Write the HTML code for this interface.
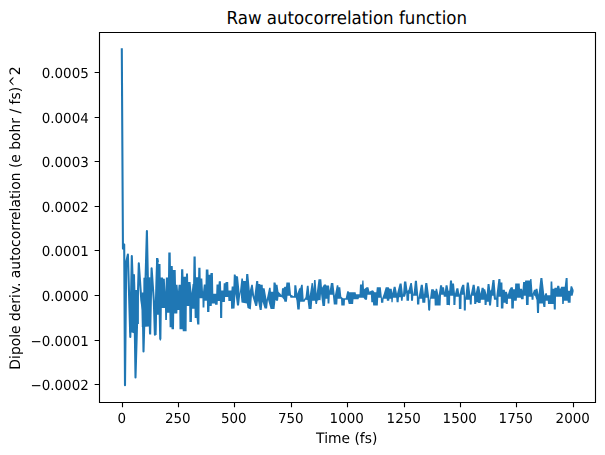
<!DOCTYPE html><html><head><meta charset="utf-8"><title>Raw autocorrelation function</title><style>html,body{margin:0;padding:0;background:#fff}svg{display:block;text-rendering:geometricPrecision}</style></head><body>
<svg width="605" height="455" viewBox="0 0 605 455">
<rect x="0" y="0" width="605" height="455" fill="#fff"/>
<defs><clipPath id="ax"><rect x="99.5" y="32.5" width="496" height="370"/></clipPath></defs>
<g clip-path="url(#ax)" fill="#1f77b4">
<path d="M121.80 48.20 L122.95 248.60 L124.20 244.50 L125.00 385.20 L126.20 262.00 L127.90 254.50 L130.30 337.00 L131.80 256.00 L133.10 292.00 L134.00 275.20 L135.50 377.50 L138.80 263.40 L141.30 300.00 L142.80 310.00 L143.50 351.40 L146.90 231.00 L148.30 300.00 L149.00 290.00 L150.00 333.00 L151.60 268.30 L153.80 300.00 L154.90 334.70 L156.30 290.00 L157.20 259.10 L158.00 262.00" fill="none" stroke="#1f77b4" stroke-width="2.0833" stroke-linejoin="round" stroke-linecap="butt"/>
<path d="M129.00 296.00 L131.00 290.00 L132.70 274.50 L134.90 274.50 L135.20 290.00 L138.80 290.00 L138.90 324.00 L136.80 324.00 L136.00 334.00 L131.90 332.60 L129.40 332.60 L129.20 320.00 Z"/>
<path d="M141.40 292.50 L143.30 292.50 L143.40 277.70 L150.70 277.20 L150.90 290.00 L151.20 297.00 L151.20 334.50 L149.20 334.50 L149.00 326.60 L141.80 327.00 Z"/>
<path d="M156.00 258.10 L158.30 258.10 L158.50 263.90 L160.50 263.90 L160.70 277.50 L163.00 277.50 L163.20 278.80 L164.80 278.80 L165.35 292.00 L165.90 277.50 L168.00 277.50 L168.30 252.40 L170.70 252.40 L170.90 266.00 L172.70 266.00 L172.90 270.00 L175.70 270.00 L176.00 284.70 L177.50 284.70 L178.05 291.60 L178.60 284.70 L180.80 284.70 L181.10 269.20 L183.30 269.20 L183.50 276.80 L185.90 276.80 L186.10 273.50 L188.00 273.50 L188.20 282.00 L190.50 282.00 L191.60 293.00 L192.60 284.00 L193.10 284.00 L193.50 256.40 L195.70 256.40 L196.00 277.30 L198.10 277.30 L198.30 267.70 L200.50 267.70 L200.70 278.60 L202.30 278.60 L203.00 292.00 L203.80 284.60 L205.50 284.60 L205.80 269.40 L208.40 269.40 L208.60 274.70 L210.30 274.70 L210.50 273.00 L212.90 273.00 L213.30 293.80 L216.20 293.80 L216.50 284.60 L218.50 284.60 L218.80 281.30 L220.90 281.30 L221.20 290.50 L223.40 290.50 L223.70 283.30 L225.40 283.30 L225.60 282.00 L228.20 282.00 L228.50 290.50 L231.40 290.50 L231.70 286.60 L233.40 286.60 L233.80 274.50 L235.50 274.50 L236.00 276.00 L238.00 276.50 L239.70 293.70 L241.40 278.40 L242.90 278.40 L243.20 280.90 L245.80 280.90 L246.20 274.00 L248.30 274.00 L249.80 290.80 L251.30 284.80 L252.80 284.80 L254.30 296.70 L256.20 280.90 L258.20 280.90 L258.40 283.90 L260.20 283.90 L260.40 284.80 L262.70 284.80 L262.90 288.30 L264.60 288.30 L266.60 299.70 L269.10 287.80 L270.60 287.80 L270.90 291.80 L273.20 291.80 L273.50 282.40 L275.50 282.40 L276.00 284.80 L277.50 284.80 L278.50 291.80 L280.00 293.30 L281.50 295.00 L282.00 288.30 L283.40 288.30 L284.50 286.80 L286.00 286.80 L286.40 282.40 L289.80 282.40 L291.00 294.70 L294.00 296.20 L294.30 285.30 L296.30 285.30 L297.30 293.80 L299.20 288.30 L300.20 288.30 L301.20 284.80 L302.70 284.80 L303.70 299.70 L305.50 297.20 L306.90 285.80 L308.60 285.80 L309.60 296.20 L311.60 282.90 L312.80 282.90 L313.50 289.00 L314.00 279.90 L315.60 279.90 L316.60 293.80 L318.50 279.20 L321.30 279.20 L322.00 287.80 L324.00 284.40 L326.00 284.40 L326.30 285.50 L329.00 285.50 L329.70 290.80 L330.90 282.90 L333.30 282.90 L334.80 295.70 L336.80 285.30 L338.30 285.30 L338.50 287.30 L340.30 287.30 L341.30 296.70 L343.00 298.20 L345.70 298.20 L347.20 291.30 L348.70 291.30 L349.00 292.30 L355.60 292.30 L356.00 294.20 L359.50 294.20 L360.00 284.40 L362.00 284.40 L362.30 280.40 L363.50 280.40 L364.00 289.30 L366.50 287.30 L368.40 287.30 L369.50 291.80 L371.00 290.80 L373.00 290.30 L374.50 292.30 L376.30 292.30 L376.80 287.30 L380.80 287.30 L382.00 298.70 L383.80 293.70 L385.70 287.30 L388.70 287.30 L389.50 288.80 L391.70 288.80 L392.30 293.30 L393.70 286.80 L395.60 286.80 L397.00 293.70 L399.60 283.40 L401.60 283.40 L403.00 294.70 L404.00 281.40 L406.30 281.40 L407.50 290.80 L408.50 290.00 L410.40 282.90 L411.90 282.90 L413.50 294.70 L414.90 280.70 L416.90 280.70 L418.50 297.70 L420.80 284.80 L422.80 284.80 L424.00 294.70 L425.30 282.90 L427.30 282.90 L429.70 300.70 L431.20 289.30 L433.70 289.30 L434.20 290.80 L435.50 290.80 L435.70 288.80 L437.10 288.80 L438.60 295.70 L440.10 285.30 L442.10 285.30 L442.30 287.30 L444.00 287.30 L444.70 292.30 L445.60 285.30 L447.50 285.30 L448.50 290.80 L449.20 290.80 L450.00 280.40 L452.00 280.40 L452.20 283.40 L454.00 283.40 L455.00 293.70 L456.40 288.30 L458.40 288.30 L459.40 294.70 L460.90 288.30 L462.30 284.80 L464.30 284.80 L465.30 297.70 L466.80 282.40 L468.80 282.40 L470.50 295.70 L472.70 284.80 L474.70 284.80 L475.70 293.30 L477.20 286.30 L479.20 286.30 L480.60 293.70 L481.60 287.80 L483.60 287.80 L484.00 289.30 L485.20 289.30 L486.60 294.70 L487.60 283.90 L489.50 283.90 L490.30 290.80 L491.20 289.80 L492.50 279.90 L494.50 279.90 L496.00 298.70 L498.40 278.90 L500.40 278.90 L500.60 282.40 L502.40 282.40 L502.60 289.80 L504.80 289.80 L505.00 291.80 L506.80 291.80 L507.80 294.70 L509.30 289.80 L510.80 287.30 L512.80 287.30 L513.00 289.30 L515.00 289.30 L515.20 283.40 L519.70 283.40 L520.00 288.80 L522.00 288.80 L522.50 290.80 L523.10 281.90 L525.00 281.90 L525.20 280.40 L530.00 280.40 L530.20 278.90 L531.50 278.90 L532.60 293.70 L534.00 289.80 L535.50 289.80 L535.70 288.80 L537.50 288.80 L538.50 294.70 L540.40 277.90 L542.40 277.90 L544.40 295.70 L545.40 293.30 L546.90 293.30 L547.20 295.20 L550.30 295.20 L550.60 281.40 L552.30 281.40 L552.60 288.80 L554.30 288.80 L554.50 287.80 L557.00 287.80 L557.20 285.80 L559.20 285.80 L560.00 289.30 L561.20 286.80 L564.70 286.80 L565.70 277.90 L567.60 277.90 L568.00 290.80 L570.00 290.80 L570.60 286.30 L572.10 286.30 L573.60 290.00 L573.60 291.50 L572.60 295.70 L570.80 295.70 L570.60 302.70 L567.80 302.70 L567.60 300.70 L564.00 300.70 L563.70 304.10 L562.20 304.10 L562.00 296.70 L556.00 296.70 L555.80 309.60 L553.80 309.60 L553.60 304.10 L548.00 304.10 L547.80 300.70 L545.70 300.70 L545.40 307.10 L543.40 307.10 L542.90 303.60 L539.30 303.60 L539.00 313.00 L537.00 313.00 L536.50 300.00 L535.00 295.70 L534.00 295.70 L533.80 293.70 L533.50 299.70 L531.60 299.70 L531.40 296.70 L528.80 296.70 L528.60 305.10 L526.00 305.10 L525.80 295.70 L523.80 295.70 L523.60 299.20 L521.00 299.20 L520.80 297.70 L517.00 297.70 L516.70 300.70 L514.00 300.70 L513.80 308.60 L511.30 308.60 L511.10 298.70 L508.00 298.70 L507.80 304.10 L505.80 304.10 L505.60 302.70 L503.60 302.70 L503.40 308.60 L500.90 308.60 L500.70 296.70 L498.60 296.70 L498.40 307.10 L496.40 307.10 L496.20 299.70 L494.00 299.70 L493.50 295.70 L492.00 295.70 L491.20 303.60 L491.00 305.60 L489.00 305.60 L488.80 301.70 L486.80 301.70 L486.60 305.10 L484.60 305.10 L484.40 299.70 L480.90 299.70 L480.60 303.10 L478.20 303.10 L478.00 302.20 L476.40 302.20 L476.20 304.10 L474.20 304.10 L474.00 295.70 L472.00 295.70 L471.70 304.60 L469.80 304.60 L469.60 299.70 L466.00 299.70 L465.80 310.60 L463.80 310.60 L463.60 294.70 L461.70 294.70 L461.40 309.10 L458.90 309.10 L458.70 296.70 L455.80 296.70 L455.40 305.10 L453.40 305.10 L453.20 295.70 L450.20 295.70 L450.00 305.60 L449.00 305.10 L446.50 305.10 L446.30 296.70 L443.80 296.70 L443.50 294.70 L441.00 294.70 L440.60 305.60 L434.70 305.60 L434.50 298.70 L430.70 298.70 L430.20 310.00 L429.20 311.10 L428.20 310.00 L427.50 297.70 L425.60 297.70 L425.30 302.70 L422.30 302.70 L422.10 298.70 L419.60 298.70 L419.30 304.60 L417.00 304.60 L416.80 295.70 L413.30 295.70 L413.00 300.70 L411.00 300.70 L410.80 293.70 L409.30 293.70 L409.00 300.70 L406.50 300.70 L406.20 292.80 L405.00 296.70 L403.00 296.70 L402.60 300.70 L401.00 300.70 L400.80 297.20 L399.00 297.20 L398.60 302.20 L396.60 302.20 L396.20 297.70 L393.00 297.70 L392.70 302.20 L391.40 302.20 L391.20 298.70 L389.50 298.70 L389.20 300.70 L386.90 300.70 L386.70 298.70 L383.60 298.70 L383.30 302.70 L381.00 302.70 L380.80 297.70 L378.20 297.70 L377.80 305.60 L373.20 305.60 L372.90 302.20 L371.30 302.20 L370.90 294.70 L367.50 294.70 L367.00 299.70 L365.00 299.70 L363.50 297.70 L362.00 297.70 L359.00 297.70 L358.50 299.20 L353.50 299.20 L353.10 304.10 L348.70 304.10 L347.70 299.70 L345.00 299.70 L344.70 305.60 L341.30 305.60 L341.00 298.70 L337.60 298.70 L337.30 304.60 L333.80 304.60 L332.80 294.70 L329.80 294.70 L329.40 303.60 L327.60 303.60 L327.40 298.70 L325.50 298.70 L325.00 306.10 L322.50 306.10 L321.00 293.70 L320.50 300.20 L319.00 300.00 L317.50 300.70 L317.00 304.10 L315.50 304.10 L315.00 300.70 L312.20 300.70 L311.60 309.10 L308.60 309.10 L307.50 300.00 L305.50 299.70 L304.50 301.70 L300.20 301.70 L299.70 309.60 L297.30 309.60 L296.50 300.70 L295.80 297.70 L290.50 297.70 L289.80 295.70 L287.50 295.70 L286.90 301.70 L284.40 301.70 L284.00 299.70 L282.00 297.20 L278.50 296.70 L278.00 300.70 L276.00 300.70 L275.50 299.70 L274.50 309.10 L270.60 309.10 L268.00 299.70 L267.10 308.60 L264.60 308.60 L262.50 301.70 L261.70 310.00 L259.70 310.00 L258.00 300.70 L257.20 306.10 L255.30 306.10 L253.50 300.00 L252.00 295.00 L250.80 309.60 L247.50 308.00 L246.80 303.60 L241.50 302.60 L240.50 292.00 L239.00 305.60 L237.00 305.60 L235.50 294.00 L234.50 308.60 L231.10 308.70 L230.90 301.00 L228.40 301.00 L228.20 296.90 L225.10 296.90 L224.90 302.00 L222.40 302.00 L222.20 318.00 L220.10 318.00 L219.90 301.00 L217.80 301.00 L217.60 304.80 L215.10 304.80 L214.90 303.50 L211.90 303.50 L211.70 306.00 L209.60 306.00 L209.40 312.00 L207.10 312.00 L206.90 300.80 L204.60 300.80 L204.40 307.40 L202.60 307.40 L202.40 298.20 L199.60 298.20 L199.40 324.60 L197.20 324.60 L196.60 318.00 L194.70 318.00 L194.50 308.70 L192.10 308.70 L191.90 322.00 L189.40 322.00 L189.20 306.00 L186.80 306.00 L186.60 331.20 L182.80 331.20 L182.60 329.20 L179.50 329.20 L179.30 310.00 L177.50 310.00 L177.30 313.40 L174.20 313.40 L174.00 329.20 L171.60 329.20 L171.40 327.20 L169.60 327.20 L169.40 312.70 L167.10 312.70 L166.90 320.00 L165.20 320.00 L165.00 308.00 L161.80 308.00 L161.40 339.00 L160.30 341.00 L159.20 339.00 L158.70 314.70 L157.00 314.70 L156.60 335.10 L155.50 335.10 Z"/>
</g>
<path d="M99.5 402.5 L99.5 32.5 M595.5 402.5 L595.5 32.5 M99.5 402.5 L595.5 402.5 M99.5 32.5 L595.5 32.5" stroke="#000" stroke-width="1.1111" stroke-linecap="square" fill="none"/>
<path d="M122.5 402.5 L122.5 407.36 M178.5 402.5 L178.5 407.36 M234.5 402.5 L234.5 407.36 M291.5 402.5 L291.5 407.36 M347.5 402.5 L347.5 407.36 M404.5 402.5 L404.5 407.36 M460.5 402.5 L460.5 407.36 M516.5 402.5 L516.5 407.36 M573.5 402.5 L573.5 407.36 M99.5 72.5 L94.64 72.5 M99.5 117.5 L94.64 117.5 M99.5 161.5 L94.64 161.5 M99.5 206.5 L94.64 206.5 M99.5 250.5 L94.64 250.5 M99.5 295.5 L94.64 295.5 M99.5 340.5 L94.64 340.5 M99.5 384.5 L94.64 384.5" stroke="#000" stroke-width="1.1111" fill="none"/>
<g opacity="0.999" style="font-family:'DejaVu Sans','Liberation Sans',sans-serif;font-size:13.8889px" fill="#000">
<text transform="translate(121.75 423.38) scale(0.97 1)" text-anchor="middle">0</text>
<text transform="translate(177.75 423.38) scale(0.97 1)" text-anchor="middle">250</text>
<text transform="translate(233.75 423.38) scale(0.97 1)" text-anchor="middle">500</text>
<text transform="translate(290.75 423.38) scale(0.97 1)" text-anchor="middle">750</text>
<text transform="translate(346.75 423.38) scale(0.97 1)" text-anchor="middle">1000</text>
<text transform="translate(403.75 423.38) scale(0.97 1)" text-anchor="middle">1250</text>
<text transform="translate(459.75 423.38) scale(0.97 1)" text-anchor="middle">1500</text>
<text transform="translate(515.75 423.38) scale(0.97 1)" text-anchor="middle">1750</text>
<text transform="translate(572.75 423.38) scale(0.97 1)" text-anchor="middle">2000</text>
<text transform="translate(88.78 77.78) scale(0.97 1.0)" text-anchor="end">0.0005</text>
<text transform="translate(88.78 122.78) scale(0.97 1.0)" text-anchor="end">0.0004</text>
<text transform="translate(88.78 166.78) scale(0.97 1.0)" text-anchor="end">0.0003</text>
<text transform="translate(88.78 211.78) scale(0.97 1.0)" text-anchor="end">0.0002</text>
<text transform="translate(88.78 255.78) scale(0.97 1.0)" text-anchor="end">0.0001</text>
<text transform="translate(88.78 300.78) scale(0.97 1.0)" text-anchor="end">0.0000</text>
<text transform="translate(88.78 345.78) scale(0.97 1.0)" text-anchor="end">−0.0001</text>
<text transform="translate(88.78 389.78) scale(0.97 1.0)" text-anchor="end">−0.0002</text>
<text transform="translate(346.75 443.37) scale(1 1.04)" text-anchor="middle">Time (fs)</text>
<text transform="translate(20.10 218.05) rotate(-90) scale(1 1.04)" text-anchor="middle">Dipole deriv. autocorrelation (e bohr / fs)^2</text>
</g>
<g opacity="0.999" style="font-family:'DejaVu Sans','Liberation Sans',sans-serif;font-size:16.6667px" fill="#000">
<text transform="translate(346.75 23.67) scale(1 1.08)" text-anchor="middle">Raw autocorrelation function</text>
</g>
</svg></body></html>
